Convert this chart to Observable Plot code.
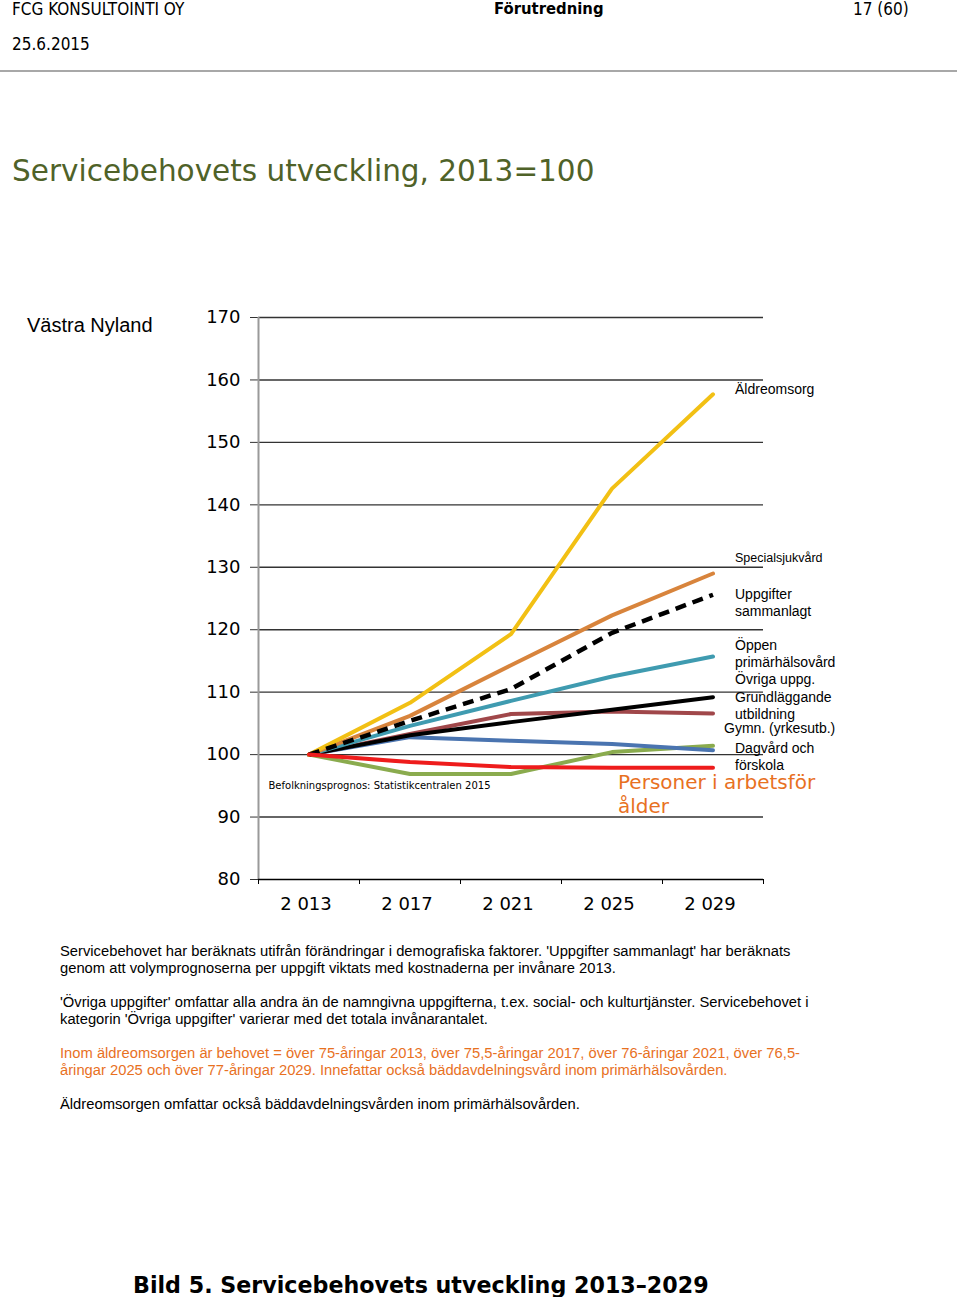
<!DOCTYPE html>
<html><head><meta charset="utf-8">
<script src="https://cdn.jsdelivr.net/npm/d3@7"></script>
<script src="https://cdn.jsdelivr.net/npm/@observablehq/plot@0.6"></script>
<style>
body{margin:0;background:#fff;}
#page{position:relative;width:960px;height:1297px;overflow:hidden;font-family:"Liberation Sans",Arial,sans-serif;color:#000;}
.abs{position:absolute;white-space:nowrap;}
.hdr{font-family:"DejaVu Sans Condensed","DejaVu Sans",sans-serif;font-size:17px;line-height:18px;}
.note{font-size:14.75px;line-height:17px;left:60px;}
#chart{position:absolute;left:0;top:300px;}
</style></head><body><div id="page">
<div class="abs hdr" style="left:12px;top:0px;">FCG KONSULTOINTI OY</div>
<div class="abs hdr" style="left:494px;top:0px;font-weight:bold;font-size:16.5px;">Förutredning</div>
<div class="abs hdr" style="left:853px;top:0px;">17 (60)</div>
<div class="abs hdr" style="left:12px;top:35px;">25.6.2015</div>
<div class="abs" style="left:0;top:70px;width:957px;height:2px;background:#a8a8a8;"></div>
<div class="abs" style="left:12px;top:152px;font-family:'DejaVu Sans',sans-serif;font-size:29.5px;line-height:38px;color:#4f6228;">Servicebehovets utveckling, 2013=100</div>
<div class="abs" style="left:27px;top:313px;font-size:20px;line-height:24px;">Västra Nyland</div>
<div id="chart"></div>
<div class="abs note" style="top:943px;">Servicebehovet har beräknats utifrån förändringar i demografiska faktorer. 'Uppgifter sammanlagt' har beräknats<br>genom att volymprognoserna per uppgift viktats med kostnaderna per invånare 2013.</div>
<div class="abs note" style="top:994px;">'Övriga uppgifter' omfattar alla andra än de namngivna uppgifterna, t.ex. social- och kulturtjänster. Servicebehovet i<br>kategorin 'Övriga uppgifter' varierar med det totala invånarantalet.</div>
<div class="abs note" style="top:1045px;color:#e8711f;">Inom äldreomsorgen är behovet = över 75-åringar 2013, över 75,5-åringar 2017, över 76-åringar 2021, över 76,5-<br>åringar 2025 och över 77-åringar 2029. Innefattar också bäddavdelningsvård inom primärhälsovården.</div>
<div class="abs note" style="top:1096px;">Äldreomsorgen omfattar också bäddavdelningsvården inom primärhälsovården.</div>
<div class="abs" style="left:133px;top:1270px;font-family:'DejaVu Sans',sans-serif;font-weight:bold;font-size:22.2px;line-height:30px;">Bild 5. Servicebehovets utveckling 2013–2029</div>
</div>
<script>
// ---- data ----
const years = [2013, 2017, 2021, 2025, 2029];
const yearLabels = ["2 013", "2 017", "2 021", "2 025", "2 029"];
const yTicks = [80, 90, 100, 110, 120, 130, 140, 150, 160, 170];
const seriesNames = ["Dagvård och förskola", "Gymn. (yrkesutb.)", "Grundläggande utbildning", "Övriga uppg.", "Öppen primärhälsovård", "Specialsjukvård", "Äldreomsorg", "Uppgifter sammanlagt", "Personer i arbetsför ålder"];
const dagvard = [100, 96.9, 96.9, 100.4, 101.4];
const gymn = [100, 102.8, 102.2, 101.7, 100.7];
const grundlaggande = [100, 103.3, 106.5, 106.9, 106.6];
const ovriga = [100, 103.1, 105.2, 107.2, 109.2];
const oppen = [100, 104.6, 108.6, 112.5, 115.7];
const specialsjukvard = [100, 106.2, 114.3, 122.3, 129.0];
const aldreomsorg = [100, 108.3, 119.3, 142.6, 157.7];
const sammanlagt = [100, 105.4, 110.5, 119.5, 125.6];
const personer = [100, 98.8, 98.0, 97.9, 97.9];
const seriesValues = [dagvard, gymn, grundlaggande, ovriga, oppen, specialsjukvard, aldreomsorg, sammanlagt, personer];
// label texts and their anchor values (index units) at the right of the lines
const labelTexts = ["Äldreomsorg", "Specialsjukvård", "Uppgifter\nsammanlagt", "Öppen\nprimärhälsovård\nÖvriga uppg.", "Grundläggande\nutbildning", "Gymn. (yrkesutb.)", "Dagvård och\nförskola"];
const labelValues = [159.6, 132.3, 126.8, 118.6, 110.4, 105.0, 102.2];
const sourceText = "Befolkningsprognos: Statistikcentralen 2015";
const workAgeText = "Personer i arbetsför\nålder";

// ---- styles ----
const colors = ["#8aab4e", "#4a74b0", "#a0474a", "#000000", "#3f9bb0", "#d8843c", "#f2c014", "#000000", "#ee1c1c"];
const bounds = [2011, 2015, 2019, 2023, 2027, 2031];

const lineMarks = seriesNames.map((name, i) => {
  const rows = years.map((yr, j) => ({year: yr, value: seriesValues[i][j], name}));
  const dashed = name === "Uppgifter sammanlagt";
  return Plot.line(rows, {
    x: "year", y: "value", stroke: colors[i],
    strokeWidth: dashed ? 4.5 : 4,
    strokeDasharray: dashed ? "11,7" : null,
    strokeLinecap: dashed ? "butt" : "round",
    strokeLinejoin: "round"
  });
});

const labelRows = labelTexts.map((t, i) => ({text: t, value: labelValues[i], small: t === "Specialsjukvård", gymn: t.startsWith("Gymn")}));

const chart = Plot.plot({
  width: 960, height: 620,
  marginLeft: 258, marginRight: 197, marginTop: 17, marginBottom: 41,
  x: {domain: [2011, 2031]},
  y: {domain: [80, 170]},
  style: {fontFamily: "DejaVu Sans, sans-serif", fontSize: "18px", background: "transparent", color: "#000"},
  marks: [
    Plot.ruleY(yTicks.filter(v => v > 80), {stroke: "#333", strokeWidth: 1.4}),
    Plot.axisY({ticks: yTicks, tickSize: 8, tickPadding: 10, stroke: "#333", strokeOpacity: 1, fontSize: 18, label: null}),
    Plot.ruleX([2011], {y1: 80, y2: 170, stroke: "#9a9a9a", strokeWidth: 2}),
    Plot.ruleY([80], {stroke: "#000", strokeWidth: 1.5}),
    Plot.axisX({ticks: bounds, tickSize: 5, tickFormat: () => "", stroke: "#000", strokeOpacity: 1, label: null}),
    Plot.axisX({ticks: years, tickSize: 0, tickPadding: 18, dx: -3, tickFormat: (d) => yearLabels[years.indexOf(d)], fontSize: 18, label: null}),
    ...lineMarks,
    Plot.text(labelRows.filter(d => !d.small && !d.gymn), {x: 2029, y: "value", text: "text", dx: 22, textAnchor: "start", lineAnchor: "top", lineHeight: 1.21, fontFamily: "Liberation Sans, Arial, sans-serif", fontSize: 14, fill: "#000"}),
    Plot.text(labelRows.filter(d => d.gymn), {x: 2029, y: "value", text: "text", dx: 11, textAnchor: "start", lineAnchor: "top", fontFamily: "Liberation Sans, Arial, sans-serif", fontSize: 14, fill: "#000"}),
    Plot.text(labelRows.filter(d => d.small), {x: 2029, y: "value", text: "text", dx: 22, textAnchor: "start", lineAnchor: "top", fontFamily: "Liberation Sans, Arial, sans-serif", fontSize: 12.5, fill: "#000"}),
    Plot.text([sourceText], {x: 2011, y: 95.7, text: d => d, dx: 10, textAnchor: "start", lineAnchor: "top", fontFamily: "DejaVu Sans, sans-serif", fontSize: 10, fill: "#000"}),
    Plot.text([workAgeText], {x: 2025, y: 97.2, text: d => d, dx: 6, textAnchor: "start", lineAnchor: "top", lineHeight: 1.2, fontFamily: "DejaVu Sans, sans-serif", fontSize: 20, fill: "#e8711f"})
  ]
});
document.getElementById("chart").appendChild(chart);
</script>
</body></html>
